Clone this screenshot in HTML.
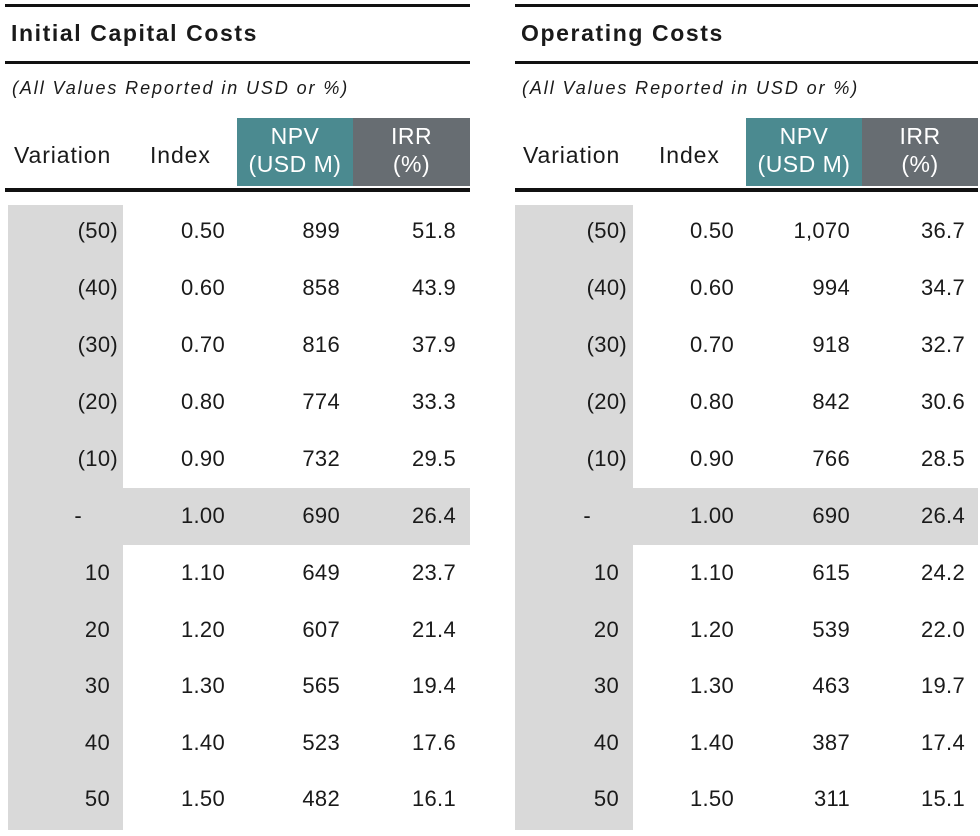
<!DOCTYPE html>
<html><head><meta charset="utf-8"><style>
body{margin:0;width:980px;height:836px;background:#fff;position:relative;overflow:hidden;font-family:"Liberation Sans",Arial,sans-serif;color:#1a1a1a}
.a{position:absolute}
.l{position:absolute;background:#111}
.t{position:absolute;font-weight:bold;font-size:23px;letter-spacing:1.6px;top:20px}
.s{position:absolute;font-style:italic;font-size:18px;letter-spacing:1.9px;top:78px}
.h{position:absolute;font-size:23px;line-height:28px;text-align:center;color:#fff;letter-spacing:0.5px}
.v{position:absolute;font-size:23px;letter-spacing:0.9px;top:142px}
.c{position:absolute;font-size:22px;line-height:26px;text-align:right;width:100px;letter-spacing:0.3px}
</style></head><body>
<div class="l" style="left:5px;top:4px;width:465px;height:3px"></div>
<div class="t" style="left:11px">Initial Capital Costs</div>
<div class="l" style="left:5px;top:61px;width:465px;height:3px"></div>
<div class="s" style="left:12px">(All Values Reported in USD or %)</div>
<div class="a" style="left:237px;top:118px;width:116px;height:68px;background:#4b8a90"></div>
<div class="a" style="left:353px;top:118px;width:117px;height:68px;background:#676d72"></div>
<div class="h" style="left:237px;top:122px;width:116px">NPV<br>(USD M)</div>
<div class="h" style="left:353px;top:122px;width:117px">IRR<br>(%)</div>
<div class="v" style="left:14px">Variation</div>
<div class="v" style="left:150px">Index</div>
<div class="l" style="left:5px;top:188px;width:465px;height:4px"></div>
<div class="a" style="left:8px;top:205px;width:115px;height:625px;background:#d9d9d9"></div>
<div class="a" style="left:123px;top:488px;width:347px;height:57px;background:#d9d9d9"></div>

<div class="l" style="left:515px;top:4px;width:463px;height:3px"></div>
<div class="t" style="left:521px">Operating Costs</div>
<div class="l" style="left:515px;top:61px;width:463px;height:3px"></div>
<div class="s" style="left:522px">(All Values Reported in USD or %)</div>
<div class="a" style="left:746px;top:118px;width:116px;height:68px;background:#4b8a90"></div>
<div class="a" style="left:862px;top:118px;width:116px;height:68px;background:#676d72"></div>
<div class="h" style="left:746px;top:122px;width:116px">NPV<br>(USD M)</div>
<div class="h" style="left:862px;top:122px;width:116px">IRR<br>(%)</div>
<div class="v" style="left:523px">Variation</div>
<div class="v" style="left:659px">Index</div>
<div class="l" style="left:515px;top:188px;width:463px;height:4px"></div>
<div class="a" style="left:515px;top:205px;width:118px;height:625px;background:#d9d9d9"></div>
<div class="a" style="left:633px;top:488px;width:345px;height:57px;background:#d9d9d9"></div>

<div class="c" style="left:18px;top:218px">(50)</div><div class="c" style="left:125px;top:218px">0.50</div><div class="c" style="left:240px;top:218px">899</div><div class="c" style="left:356px;top:218px">51.8</div>
<div class="c" style="left:18px;top:275px">(40)</div><div class="c" style="left:125px;top:275px">0.60</div><div class="c" style="left:240px;top:275px">858</div><div class="c" style="left:356px;top:275px">43.9</div>
<div class="c" style="left:18px;top:332px">(30)</div><div class="c" style="left:125px;top:332px">0.70</div><div class="c" style="left:240px;top:332px">816</div><div class="c" style="left:356px;top:332px">37.9</div>
<div class="c" style="left:18px;top:389px">(20)</div><div class="c" style="left:125px;top:389px">0.80</div><div class="c" style="left:240px;top:389px">774</div><div class="c" style="left:356px;top:389px">33.3</div>
<div class="c" style="left:18px;top:446px">(10)</div><div class="c" style="left:125px;top:446px">0.90</div><div class="c" style="left:240px;top:446px">732</div><div class="c" style="left:356px;top:446px">29.5</div>
<div class="c" style="left:-18px;top:503px">-</div><div class="c" style="left:125px;top:503px">1.00</div><div class="c" style="left:240px;top:503px">690</div><div class="c" style="left:356px;top:503px">26.4</div>
<div class="c" style="left:10px;top:560px">10</div><div class="c" style="left:125px;top:560px">1.10</div><div class="c" style="left:240px;top:560px">649</div><div class="c" style="left:356px;top:560px">23.7</div>
<div class="c" style="left:10px;top:617px">20</div><div class="c" style="left:125px;top:617px">1.20</div><div class="c" style="left:240px;top:617px">607</div><div class="c" style="left:356px;top:617px">21.4</div>
<div class="c" style="left:10px;top:673px">30</div><div class="c" style="left:125px;top:673px">1.30</div><div class="c" style="left:240px;top:673px">565</div><div class="c" style="left:356px;top:673px">19.4</div>
<div class="c" style="left:10px;top:730px">40</div><div class="c" style="left:125px;top:730px">1.40</div><div class="c" style="left:240px;top:730px">523</div><div class="c" style="left:356px;top:730px">17.6</div>
<div class="c" style="left:10px;top:786px">50</div><div class="c" style="left:125px;top:786px">1.50</div><div class="c" style="left:240px;top:786px">482</div><div class="c" style="left:356px;top:786px">16.1</div>

<div class="c" style="left:527px;top:218px">(50)</div><div class="c" style="left:634px;top:218px">0.50</div><div class="c" style="left:750px;top:218px">1,070</div><div class="c" style="left:865px;top:218px">36.7</div>
<div class="c" style="left:527px;top:275px">(40)</div><div class="c" style="left:634px;top:275px">0.60</div><div class="c" style="left:750px;top:275px">994</div><div class="c" style="left:865px;top:275px">34.7</div>
<div class="c" style="left:527px;top:332px">(30)</div><div class="c" style="left:634px;top:332px">0.70</div><div class="c" style="left:750px;top:332px">918</div><div class="c" style="left:865px;top:332px">32.7</div>
<div class="c" style="left:527px;top:389px">(20)</div><div class="c" style="left:634px;top:389px">0.80</div><div class="c" style="left:750px;top:389px">842</div><div class="c" style="left:865px;top:389px">30.6</div>
<div class="c" style="left:527px;top:446px">(10)</div><div class="c" style="left:634px;top:446px">0.90</div><div class="c" style="left:750px;top:446px">766</div><div class="c" style="left:865px;top:446px">28.5</div>
<div class="c" style="left:491px;top:503px">-</div><div class="c" style="left:634px;top:503px">1.00</div><div class="c" style="left:750px;top:503px">690</div><div class="c" style="left:865px;top:503px">26.4</div>
<div class="c" style="left:519px;top:560px">10</div><div class="c" style="left:634px;top:560px">1.10</div><div class="c" style="left:750px;top:560px">615</div><div class="c" style="left:865px;top:560px">24.2</div>
<div class="c" style="left:519px;top:617px">20</div><div class="c" style="left:634px;top:617px">1.20</div><div class="c" style="left:750px;top:617px">539</div><div class="c" style="left:865px;top:617px">22.0</div>
<div class="c" style="left:519px;top:673px">30</div><div class="c" style="left:634px;top:673px">1.30</div><div class="c" style="left:750px;top:673px">463</div><div class="c" style="left:865px;top:673px">19.7</div>
<div class="c" style="left:519px;top:730px">40</div><div class="c" style="left:634px;top:730px">1.40</div><div class="c" style="left:750px;top:730px">387</div><div class="c" style="left:865px;top:730px">17.4</div>
<div class="c" style="left:519px;top:786px">50</div><div class="c" style="left:634px;top:786px">1.50</div><div class="c" style="left:750px;top:786px">311</div><div class="c" style="left:865px;top:786px">15.1</div>
</body></html>
